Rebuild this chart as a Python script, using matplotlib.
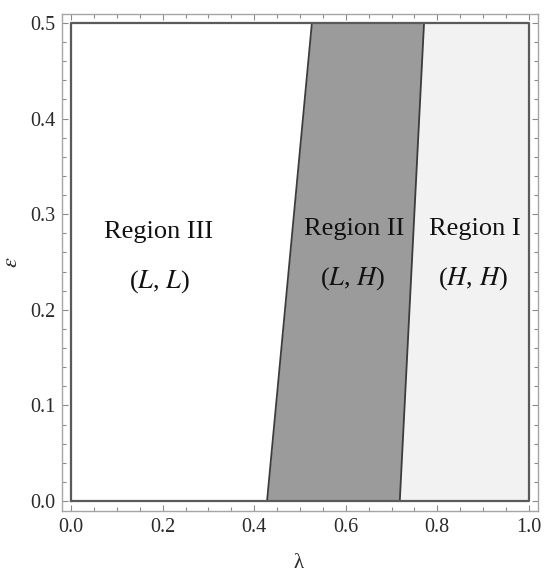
import numpy as np
import matplotlib.pyplot as plt
from matplotlib.ticker import MultipleLocator

plt.rcParams['font.family'] = ['Liberation Serif', 'DejaVu Serif']
plt.rcParams['mathtext.fontset'] = 'stix'

# boundaries of the regions
eps = [0.0, 0.5]
lam_low = [0.428, 0.526]    # Region III / Region II boundary
lam_high = [0.718, 0.771]   # Region II / Region I boundary
lam_max = [1.0, 1.0]

region_names = ["Region III", "Region II", "Region I"]
region_pairs = ["($L$, $L$)", "($L$, $H$)", "($H$, $H$)"]
name_x = [0.192, 0.619, 0.882]
name_y = [0.281, 0.284, 0.284]
pair_x = [0.192, 0.615, 0.878]
pair_y = [0.230, 0.233, 0.233]

fig = plt.figure(figsize=(5.5, 5.76), dpi=100)
ax = fig.add_axes([0.1127, 0.1128, 0.8655, 0.8629])

# shaded regions
ax.fill_betweenx(eps, lam_low, lam_high, color='#9b9b9b', lw=0, zorder=1)
ax.fill_betweenx(eps, lam_high, lam_max, color='#f2f2f2', lw=0, zorder=1)
ax.plot(lam_low, eps, color='#3c3c3c', lw=1.3, zorder=2)
ax.plot(lam_high, eps, color='#3c3c3c', lw=1.3, zorder=2)

# inner frame of the plot region
ax.plot([0, 1, 1, 0, 0], [0, 0, 0.5, 0.5, 0], color='#5a5a5a', lw=1.6, zorder=3)

for nx_, ny_, nm in zip(name_x, name_y, region_names):
    ax.text(nx_, ny_, nm, ha='center', va='center', fontsize=19, color='#111111', zorder=4)
for px_, py_, pr in zip(pair_x, pair_y, region_pairs):
    ax.text(px_, py_, pr, ha='center', va='center', fontsize=19, color='#111111', zorder=4)

ax.set_xlim(-0.02, 1.02)
ax.set_ylim(-0.0105, 0.5094)

ax.xaxis.set_major_locator(MultipleLocator(0.2))
ax.xaxis.set_minor_locator(MultipleLocator(0.05))
ax.yaxis.set_major_locator(MultipleLocator(0.1))
ax.yaxis.set_minor_locator(MultipleLocator(0.02))
ax.xaxis.set_major_formatter(plt.FormatStrFormatter('%.1f'))
ax.yaxis.set_major_formatter(plt.FormatStrFormatter('%.1f'))

ax.tick_params(which='both', direction='in', top=True, right=True, color='#8a8a8a',
               width=0.8, labelsize=14.5, labelcolor='#2a2a2a')
ax.tick_params(which='major', length=4.5)
ax.tick_params(which='minor', length=2.6)
ax.tick_params(axis='x', pad=5)
ax.tick_params(axis='y', pad=5)

for s in ax.spines.values():
    s.set_color('#a5a5a5')
    s.set_linewidth(1.0)

ax.set_xlabel("λ", fontsize=15, color='#2a2a2a', va='center')
ax.set_ylabel(r"$\epsilon$", fontsize=16, color='#2a2a2a', va='center')
ax.xaxis.set_label_coords(0.497, -0.105)
ax.yaxis.set_label_coords(-0.103, 0.5)

plt.savefig('out.png', dpi=100)
